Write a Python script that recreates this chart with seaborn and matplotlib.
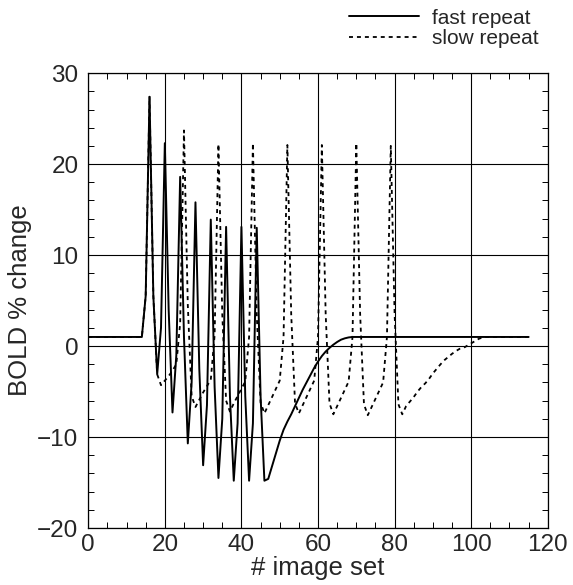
import numpy as np
import pandas as pd
import matplotlib
matplotlib.use("Agg")
import matplotlib.pyplot as plt
from matplotlib.ticker import MultipleLocator
import seaborn as sns

# --- data (BOLD % change per image set) ---
image_set = list(range(0, 116))

fast_repeat = (
    [1.0] * 15
    + [5.5, 27.4, 5.5, -3.1,          # 15-18
       2.0, 22.3, 4.0, -7.3,          # 19-22
       -1.0, 18.6, 1.0, -10.7,        # 23-26
       -4.0, 15.8, -2.5, -13.1,       # 27-30
       -6.5, 13.9, -4.5, -14.5,       # 31-34
       -8.0, 13.1, -5.5, -14.8,       # 35-38
       -8.5, 13.1, -5.5, -14.8,       # 39-42
       -8.5, 13.0, -5.5, -14.8,       # 43-46
       -14.6, -13.2, -11.8, -10.4,    # 47-50
       -9.2, -8.3, -7.5, -6.6,        # 51-54
       -5.7, -4.8, -4.0, -3.2,        # 55-58
       -2.4, -1.7, -1.1, -0.6,        # 59-62
       -0.2, 0.15, 0.45, 0.7,         # 63-66
       0.85, 0.95]                    # 67-68
    + [1.0] * 47                      # 69-115
)

slow_repeat = (
    [1.0] * 15
    + [5.5, 27.4, 5.5, -3.1,          # 15-18
       -4.3, -3.8, -3.3, -2.7, -2.0,  # 19-23
       2.5, 23.7, 4.5, -5.5,          # 24-27
       -6.7, -5.9, -5.1, -4.4, -3.7,  # 28-32
       1.2, 22.2, 3.5, -6.0,          # 33-36
       -7.2, -6.3, -5.5, -4.7, -3.9,  # 37-41
       1.0, 22.3, 3.5, -6.2,          # 42-45
       -7.4, -6.5, -5.6, -4.7, -3.8,  # 46-50
       1.0, 22.1, 3.5, -6.3,          # 51-54
       -7.4, -6.5, -5.6, -4.7, -3.8,  # 55-59
       1.0, 22.1, 3.5, -6.3,          # 60-63
       -7.5, -6.6, -5.7, -4.8, -3.9,  # 64-68
       1.0, 22.3, 3.5, -6.4,          # 69-72
       -7.6, -6.7, -5.8, -4.9, -4.0,  # 73-77
       1.0, 22.0, 3.5, -6.4,          # 78-81
       -7.5, -6.6, -6.1, -5.6, -5.0,  # 82-86
       -4.5, -4.1, -3.6, -3.0, -2.5,  # 87-91
       -2.0, -1.55, -1.2, -0.85,      # 92-95
       -0.55, -0.3, -0.2, 0.05,       # 96-99
       0.3, 0.55, 0.8, 0.95]          # 100-103
    + [1.0] * 12                      # 104-115
)

x_ticks = [0, 20, 40, 60, 80, 100, 120]
y_ticks = [-20, -10, 0, 10, 20, 30]

df = pd.DataFrame({"image_set": image_set, "fast": fast_repeat, "slow": slow_repeat})

# --- style ---
sns.set_style("ticks")
plt.rcParams["font.family"] = ["Liberation Sans", "DejaVu Sans"]

fig = plt.figure(figsize=(5.73, 5.85), dpi=100)
ax = fig.add_axes([0.154, 0.0974, 0.802, 0.7776])

sns.lineplot(data=df, x="image_set", y="slow", ax=ax, color="black",
             linewidth=1.3, linestyle=(0, (2.2, 2.2)), label="slow repeat")
sns.lineplot(data=df, x="image_set", y="fast", ax=ax, color="black",
             linewidth=1.4, label="fast repeat")

ax.set_xlim(0, 120)
ax.set_ylim(-20, 30)
ax.set_xticks(x_ticks)
ax.set_yticks(y_ticks)
ax.xaxis.set_minor_locator(MultipleLocator(5))
ax.yaxis.set_minor_locator(MultipleLocator(2))
ax.grid(True, which="major", color="black", linewidth=0.8)
ax.set_axisbelow(True)
ax.tick_params(which="both", direction="in", top=True, right=True,
               labelsize=17.5, color="black")
ax.tick_params(axis="x", which="major", length=0, pad=4)
ax.tick_params(axis="y", which="major", length=0, pad=7)
ax.tick_params(which="minor", length=4, width=0.7)
for s in ax.spines.values():
    s.set_color("black")
    s.set_linewidth(0.9)

ax.set_xlabel("# image set", fontsize=18.5, labelpad=0)
ax.set_ylabel("BOLD % change", fontsize=18.5, labelpad=4)

handles, labels = ax.get_legend_handles_labels()
order = [labels.index("fast repeat"), labels.index("slow repeat")]
ax.legend([handles[i] for i in order], [labels[i] for i in order],
          loc="upper right", bbox_to_anchor=(0.94, 0.985),
          bbox_transform=fig.transFigure, frameon=False, fontsize=15,
          handlelength=3.4, handletextpad=0.6, labelspacing=0.05,
          borderaxespad=0, borderpad=0)

fig.savefig("out.png", dpi=100, facecolor="white")
